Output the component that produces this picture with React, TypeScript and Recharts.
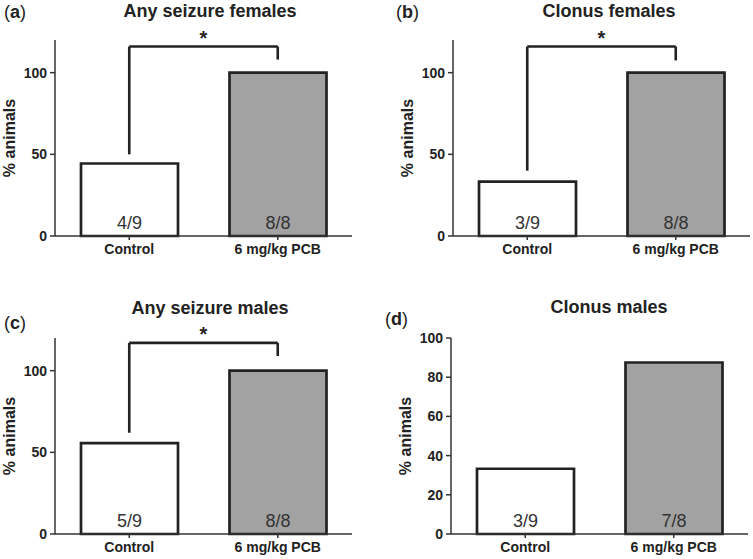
import { Bar, BarChart, Cell, Label, LabelList, ReferenceLine, XAxis, YAxis } from "recharts";

const CATEGORIES = ["Control", "6 mg/kg PCB"];

const ANY_FEMALES = [44.4, 100];
const ANY_FEMALES_N = ["4/9", "8/8"];
const CLONUS_FEMALES = [33.3, 100];
const CLONUS_FEMALES_N = ["3/9", "8/8"];
const ANY_MALES = [55.6, 100];
const ANY_MALES_N = ["5/9", "8/8"];
const CLONUS_MALES = [33.3, 87.5];
const CLONUS_MALES_N = ["3/9", "7/8"];

const TICKS_120 = [0, 50, 100];
const TICKS_100 = [0, 20, 40, 60, 80, 100];

// significance brackets: [left leg bottom, top, right leg bottom]
const BRACKET_A = [50, 116, 108];
const BRACKET_B = [40, 116, 107.5];
const BRACKET_C = [62, 117, 109];

const FILLS = ["#ffffff", "#a2a2a2"];
const INK = "#222";
const FONT = '"Liberation Sans", Arial, Helvetica, sans-serif';

type PanelProps = {
  tag: string;
  title: string;
  values: number[];
  counts: string[];
  ticks: number[];
  max: number;
  bracket?: number[];
  left: number;
  top: number;
  titleX: number;
  titleY: number;
  tagX: number;
  tagY: number;
};

function YTitle(props: any) {
  const vb = props.viewBox || {};
  const x = 15;
  const y = vb.y + vb.height / 2;
  return (
    <text
      x={x}
      y={y}
      transform={`rotate(-90 ${x} ${y})`}
      textAnchor="middle"
      fill={INK}
      fontSize={16}
      fontWeight={700}
      fontFamily={FONT}
    >
      % animals
    </text>
  );
}

function Panel(p: PanelProps) {
  const data = CATEGORIES.map((name, i) => ({ name, value: p.values[i], n: p.counts[i] }));
  const [c0, c1] = CATEGORIES;
  const seg = { stroke: INK, strokeWidth: 2.6, ifOverflow: "visible" as const };
  return (
    <>
      <div
        style={{
          position: "absolute",
          left: p.left + p.titleX - 150,
          top: p.top + p.titleY - 11,
          width: 300,
          lineHeight: "22px",
          textAlign: "center",
          fontFamily: FONT,
          fontWeight: 700,
          fontSize: 18,
          color: INK,
        }}
      >
        {p.title}
      </div>
      <div
        style={{
          position: "absolute",
          left: p.tagX,
          top: p.tagY - 11,
          lineHeight: "22px",
          fontFamily: FONT,
          fontSize: 18,
          color: INK,
        }}
      >
        (<b>{p.tag}</b>)
      </div>
      <div style={{ position: "absolute", left: p.left, top: p.top }}>
        <BarChart width={355} height={275} data={data} margin={{ top: 40, right: 3, left: 0, bottom: 9 }}>
          <XAxis
            dataKey="name"
            interval={0}
            height={30}
            tickSize={4}
            tickMargin={4}
            axisLine={{ stroke: "#333", strokeWidth: 1.5 }}
            tickLine={{ stroke: "#333", strokeWidth: 1.5 }}
            tick={{ fill: INK, fontSize: 14, fontWeight: 700, fontFamily: FONT }}
          />
          <YAxis
            width={55}
            domain={[0, p.max]}
            ticks={p.ticks}
            interval={0}
            tickSize={5}
            tickMargin={3}
            axisLine={{ stroke: "#333", strokeWidth: 1.5 }}
            tickLine={{ stroke: "#333", strokeWidth: 1.5 }}
            tick={{ fill: INK, fontSize: 14, fontWeight: 700, fontFamily: FONT }}
          >
            <Label content={YTitle} />
          </YAxis>
          <Bar dataKey="value" barSize={97} stroke={INK} strokeWidth={2.7} isAnimationActive={false}>
            {data.map((d, i) => (
              <Cell key={d.name} fill={FILLS[i]} />
            ))}
            <LabelList
              dataKey="n"
              position="insideBottom"
              offset={7}
              style={{ fill: "#333", fontSize: 18, fontFamily: FONT, strokeWidth: 0 }}
            />
          </Bar>
          {p.bracket && (
            <>
              <ReferenceLine {...seg} segment={[{ x: c0, y: p.bracket[0] }, { x: c0, y: p.bracket[1] }]} />
              <ReferenceLine
                {...seg}
                segment={[{ x: c0, y: p.bracket[1] }, { x: c1, y: p.bracket[1] }]}
                label={{
                  value: "*",
                  position: "top",
                  offset: 2,
                  style: { fill: INK, fontSize: 20, fontWeight: 700, fontFamily: FONT },
                }}
              />
              <ReferenceLine {...seg} segment={[{ x: c1, y: p.bracket[1] }, { x: c1, y: p.bracket[2] }]} />
            </>
          )}
        </BarChart>
      </div>
    </>
  );
}

export default function App() {
  return (
    <div style={{ position: "absolute", left: 0, top: 0, width: 753, height: 559, background: "#fff", overflow: "hidden" }}>
      <Panel
        tag="a"
        title="Any seizure females"
        values={ANY_FEMALES}
        counts={ANY_FEMALES_N}
        ticks={TICKS_120}
        max={120}
        bracket={BRACKET_A}
        left={0}
        top={0}
        titleX={210}
        titleY={11}
        tagX={4}
        tagY={12}
      />
      <Panel
        tag="b"
        title="Clonus females"
        values={CLONUS_FEMALES}
        counts={CLONUS_FEMALES_N}
        ticks={TICKS_120}
        max={120}
        bracket={BRACKET_B}
        left={398}
        top={0}
        titleX={211}
        titleY={11}
        tagX={396}
        tagY={12}
      />
      <Panel
        tag="c"
        title="Any seizure males"
        values={ANY_MALES}
        counts={ANY_MALES_N}
        ticks={TICKS_120}
        max={120}
        bracket={BRACKET_C}
        left={0}
        top={298}
        titleX={210}
        titleY={10}
        tagX={4}
        tagY={323}
      />
      <Panel
        tag="d"
        title="Clonus males"
        values={CLONUS_MALES}
        counts={CLONUS_MALES_N}
        ticks={TICKS_100}
        max={100}
        left={396}
        top={298}
        titleX={213}
        titleY={9}
        tagX={385}
        tagY={319}
      />
    </div>
  );
}
